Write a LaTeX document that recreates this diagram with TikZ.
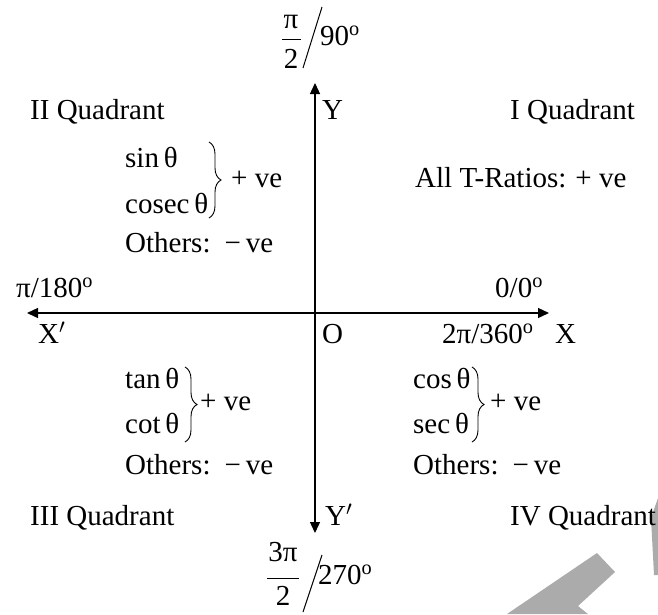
\documentclass[tikz,border=0pt]{standalone}
\usepackage{fontspec}
\setmainfont{Liberation Serif}
\usetikzlibrary{arrows.meta,decorations.pathreplacing}
\newcommand{\dg}{\textsuperscript{o}}
\begin{document}
\begin{tikzpicture}[x=1pt,y=-1pt,
  lbl/.style={anchor=base west,inner sep=0pt,font=\fontsize{29}{34}\selectfont},
  ctr/.style={anchor=base,inner sep=0pt,font=\fontsize{29}{34}\selectfont},
  axisline/.style={line width=1.3pt,-{Triangle[length=11pt,width=10pt]}},
  brc/.style={decorate,decoration={brace,amplitude=#1},line width=0.9pt},
  bar/.style={line width=1pt},
  wmark/.style={fill=black!33,draw=none}]
\useasboundingbox (0,0) rectangle (658,614);
% watermark
\fill[wmark] (507,614) -- (597,553) -- (615,572) -- (578,606) -- (588,614) -- cycle;
\fill[wmark] (658,498) -- (651,518) -- (654,575) -- (658,575) -- cycle;
% axes
\coordinate (O) at (315,313);
\coordinate (xp) at (549,313);
\coordinate (xm) at (27,313);
\coordinate (yp) at (315,83);
\coordinate (ym) at (315,533);
\draw[axisline] (O) -- (xp);
\draw[axisline] (O) -- (xm);
\draw[axisline] (O) -- (yp);
\draw[axisline] (O) -- (ym);
% top label
\node[ctr] (tpi) at (291,28) {π};
\node[ctr] (t2) at (291,68) {2};
\coordinate (tb1) at (282,39); \coordinate (tb2) at (301,39);
\draw[bar] (tb1) -- (tb2);
\coordinate (ts1) at (322,7); \coordinate (ts2) at (303,68);
\draw[bar] (ts1) -- (ts2);
\node[lbl] (t90) at (320,45) {90\dg};
% bottom label
\node[ctr] (b3pi) at (283,561) {3π};
\node[ctr] (b2) at (283,605) {2};
\coordinate (bb1) at (267,578); \coordinate (bb2) at (299,578);
\draw[bar] (bb1) -- (bb2);
\coordinate (bs1) at (322,555); \coordinate (bs2) at (303,612);
\draw[bar] (bs1) -- (bs2);
\node[lbl] (b270) at (318,584) {270\dg};
% quadrant names
\node[lbl] (q2) at (30,119) {II Quadrant};
\node[lbl] (Y) at (322,119) {Y};
\node[lbl] (q1) at (510,119) {I Quadrant};
\node[lbl] (q3) at (30,525) {III Quadrant};
\node[lbl] (Yp) at (325,525) {Y$'$};
\node[lbl] (q4) at (510,525) {IV Quadrant};
% axis labels
\node[lbl] (l180) at (16,297) {π/180\dg};
\node[lbl] (l0) at (495,297) {0/0\dg};
\node[lbl] (Xp) at (38,343) {X$'$};
\node[lbl] (Olbl) at (322,343) {O};
\node[lbl] (l360) at (442,343) {2π/360\dg};
\node[lbl] (X) at (555,343) {X};
% quadrant II
\node[lbl] (sin) at (125,167) {sin\,θ};
\node[lbl] (cosec) at (125,213) {cosec\,θ};
\coordinate (br1a) at (209,142); \coordinate (br1b) at (209,218);
\draw[brc=12pt] (br1a) -- (br1b);
\node[lbl] (pv2) at (231,187) {+ ve};
\node[lbl] (ot2) at (125,252) {Others:\hspace{14pt}−\hspace{5pt}ve};
% quadrant I
\node[lbl] (all) at (415,187) {All T-Ratios:\hspace{9pt}+ ve};
% quadrant III
\node[lbl] (tan) at (125,388) {tan\,θ};
\node[lbl] (cot) at (125,433) {cot\,θ};
\coordinate (br3a) at (185,367); \coordinate (br3b) at (185,442);
\draw[brc=12pt] (br3a) -- (br3b);
\node[lbl] (pv3) at (200,410) {+ ve};
\node[lbl] (ot3) at (125,474) {Others:\hspace{14pt}−\hspace{5pt}ve};
% quadrant IV
\node[lbl] (cos) at (413,388) {cos\,θ};
\node[lbl] (sec) at (413,433) {sec\,θ};
\coordinate (br4a) at (472,367); \coordinate (br4b) at (472,442);
\draw[brc=12pt] (br4a) -- (br4b);
\node[lbl] (pv4) at (490,410) {+ ve};
\node[lbl] (ot4) at (413,474) {Others:\hspace{14pt}−\hspace{5pt}ve};
\end{tikzpicture}
\end{document}
